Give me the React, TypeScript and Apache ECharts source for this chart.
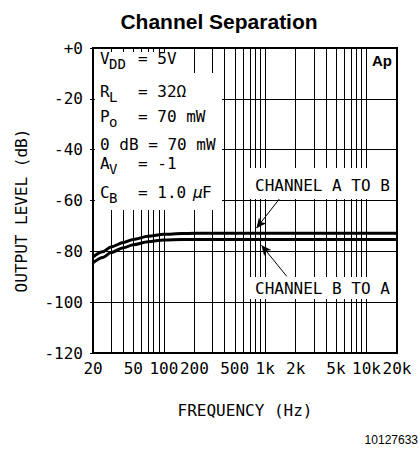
import React, { useEffect, useRef } from 'react';
import * as echarts from 'echarts';

// ---- data ----
const frequencies = [20, 25, 30, 40, 50, 70, 100, 150, 200, 500, 1000, 2000, 5000, 10000, 20000];
const channelAtoB = [-82.2, -80.2, -78.3, -76.5, -75.3, -74.1, -73.3, -73.0, -72.9, -72.9, -72.9, -72.9, -72.9, -72.9, -72.9];
const channelBtoA = [-84.5, -82.4, -80.5, -78.6, -77.4, -76.2, -75.5, -75.3, -75.3, -75.3, -75.3, -75.3, -75.3, -75.3, -75.3];
const gridFrequencies = [30, 40, 50, 60, 70, 80, 90, 100, 200, 300, 400, 500, 600, 700, 800, 900, 1000, 2000, 3000, 4000, 5000, 6000, 7000, 8000, 9000, 10000];
const tickFrequencies = [20, 50, 100, 200, 500, 1000, 2000, 5000, 10000, 20000];
const tickLabels = ['20', '50', '100', '200', '500', '1k', '2k', '5k', '10k', '20k'];
const arrowAtoB = [[1450, -58.3], [820, -70.9]];
const arrowBtoA = [[1630, -89.8], [920, -77.6]];
const conditions = [
  { main: 'V', sub: 'DD', rest: '= 5V', y: 58 },
  { main: 'R', sub: 'L', rest: '= 32Ω', y: 91 },
  { main: 'P', sub: 'o', rest: '= 70 mW', y: 116 },
  { main: '0 dB = 70 mW', sub: '', rest: '', y: 144 },
  { main: 'A', sub: 'V', rest: '= -1', y: 163 },
  { main: 'C', sub: 'B', rest: '= 1.0', y: 192 },
];

const MONO = 'DejaVu Sans Mono';
const lg = (f: number) => Math.log10(f);

function txt(text: string, x: number, y: number, size: number, extra: any = {}) {
  return {
    type: 'text',
    x,
    y,
    z: 101,
    style: {
      text,
      fill: '#000',
      fontFamily: MONO,
      fontSize: size,
      align: 'left',
      verticalAlign: 'middle',
      textAlign: 'left',
      textVerticalAlign: 'middle',
      ...extra,
    },
  };
}

export default function App() {
  const ref = useRef<HTMLDivElement>(null);
  useEffect(() => {
    document.body.style.margin = '0';
    const chart = echarts.init(ref.current!, null, { renderer: 'svg' });

    const annotation: any[] = [
      { type: 'rect', z: 100, shape: { x: 95, y: 52, width: 95, height: 21 }, style: { fill: '#fff' } },
      { type: 'rect', z: 100, shape: { x: 95, y: 73, width: 127, height: 137 }, style: { fill: '#fff' } },
      { type: 'rect', z: 100, shape: { x: 246, y: 168, width: 149.5, height: 31 }, style: { fill: '#fff' } },
      { type: 'rect', z: 100, shape: { x: 246, y: 277, width: 149.5, height: 22 }, style: { fill: '#fff' } },
    ];
    conditions.forEach((c) => {
      annotation.push(txt(c.main, 100, c.y, 16));
      if (c.sub) annotation.push(txt(c.sub, 109, c.y + 6, 14));
      if (c.rest) annotation.push(txt(c.rest, 138, c.y, 16));
    });
    annotation.push(txt('μ', 193, 192, 16, { fontStyle: 'italic' }));
    annotation.push(txt('F', 202, 192, 16));
    annotation.push(txt('CHANNEL A TO B', 255, 185, 16));
    annotation.push(txt('CHANNEL B TO A', 255, 288, 16));
    annotation.push({
      type: 'text', x: 372, y: 60, z: 101,
      style: { text: 'Ap', fill: '#000', fontFamily: 'Liberation Sans', fontWeight: 'bold', fontSize: 15,
        align: 'left', verticalAlign: 'middle', textAlign: 'left', textVerticalAlign: 'middle' },
    });
    annotation.push({
      type: 'text', x: 418, y: 440, z: 101,
      style: { text: '10127633', fill: '#000', fontFamily: 'Liberation Sans', fontSize: 12,
        align: 'right', verticalAlign: 'middle', textAlign: 'right', textVerticalAlign: 'middle' },
    });

    const findLabel = (v: number) => {
      const i = tickFrequencies.findIndex((f) => Math.abs(lg(f) - v) < 1e-6);
      return i >= 0 ? tickLabels[i] : '';
    };

    const arrowStyle = { color: '#000', width: 1, type: 'solid' };

    chart.setOption({
      animation: false,
      title: {
        text: 'Channel Separation',
        left: 214,
        top: 6,
        textAlign: 'center',
        textStyle: { fontFamily: 'Liberation Sans', fontSize: 21, fontWeight: 'bold', color: '#000' },
      },
      grid: {
        left: 93, right: 23, top: 48, bottom: 98,
        show: true, borderColor: '#000', borderWidth: 2, backgroundColor: 'transparent',
      },
      xAxis: {
        type: 'value',
        min: lg(20),
        max: lg(20000),
        name: 'FREQUENCY (Hz)',
        nameLocation: 'middle',
        nameGap: 49,
        nameTextStyle: { fontFamily: MONO, fontSize: 16, color: '#000' },
        axisLine: { show: true, lineStyle: { color: '#000', width: 2 } },
        axisTick: { show: false },
        axisLabel: {
          customValues: tickFrequencies.map(lg),
          formatter: (v: number) => findLabel(v),
          fontFamily: MONO,
          fontSize: 16,
          color: '#000',
          margin: 7,
        },
        splitLine: { show: false },
      },
      yAxis: {
        type: 'value',
        min: -120,
        max: 0,
        interval: 20,
        name: 'OUTPUT LEVEL (dB)',
        nameLocation: 'middle',
        nameGap: 64,
        nameTextStyle: { fontFamily: MONO, fontSize: 16, color: '#000', padding: [0, 20, 0, 0] },
        axisLine: { show: true, lineStyle: { color: '#000', width: 2 } },
        axisTick: { show: true, length: 3, lineStyle: { color: '#000' } },
        axisLabel: {
          formatter: (v: number) => (v === 0 ? '+0' : String(v)),
          fontFamily: MONO,
          fontSize: 16,
          color: '#000',
          margin: 10,
        },
        splitLine: { show: true, lineStyle: { color: '#000', width: 1 } },
      },
      series: [
        {
          name: 'grid',
          type: 'line',
          data: [],
          silent: true,
          markLine: {
            silent: true,
            symbol: ['none', 'none'],
            label: { show: false },
            lineStyle: { color: '#000', width: 1, type: 'solid' },
            data: gridFrequencies.map((f) => ({ xAxis: lg(f) })),
          },
        },
        {
          name: 'CHANNEL A TO B',
          type: 'line',
          data: frequencies.map((f, i) => [lg(f), channelAtoB[i]]),
          smooth: 0.3,
          smoothMonotone: 'x',
          showSymbol: false,
          silent: true,
          lineStyle: { color: '#000', width: 3 },
          markLine: {
            silent: true,
            symbol: ['none', 'arrow'],
            symbolSize: [7, 10],
            label: { show: false },
            lineStyle: arrowStyle,
            data: [
              [
                { coord: [lg(arrowAtoB[0][0]), arrowAtoB[0][1]] },
                { coord: [lg(arrowAtoB[1][0]), arrowAtoB[1][1]] },
              ],
            ],
          },
        },
        {
          name: 'CHANNEL B TO A',
          type: 'line',
          data: frequencies.map((f, i) => [lg(f), channelBtoA[i]]),
          smooth: 0.3,
          smoothMonotone: 'x',
          showSymbol: false,
          silent: true,
          lineStyle: { color: '#000', width: 3 },
          markLine: {
            silent: true,
            symbol: ['none', 'arrow'],
            symbolSize: [7, 10],
            label: { show: false },
            lineStyle: arrowStyle,
            data: [
              [
                { coord: [lg(arrowBtoA[0][0]), arrowBtoA[0][1]] },
                { coord: [lg(arrowBtoA[1][0]), arrowBtoA[1][1]] },
              ],
            ],
          },
        },
      ],
      graphic: annotation,
    });
    return () => chart.dispose();
  }, []);
  return <div ref={ref} style={{ width: 420, height: 451 }} />;
}
